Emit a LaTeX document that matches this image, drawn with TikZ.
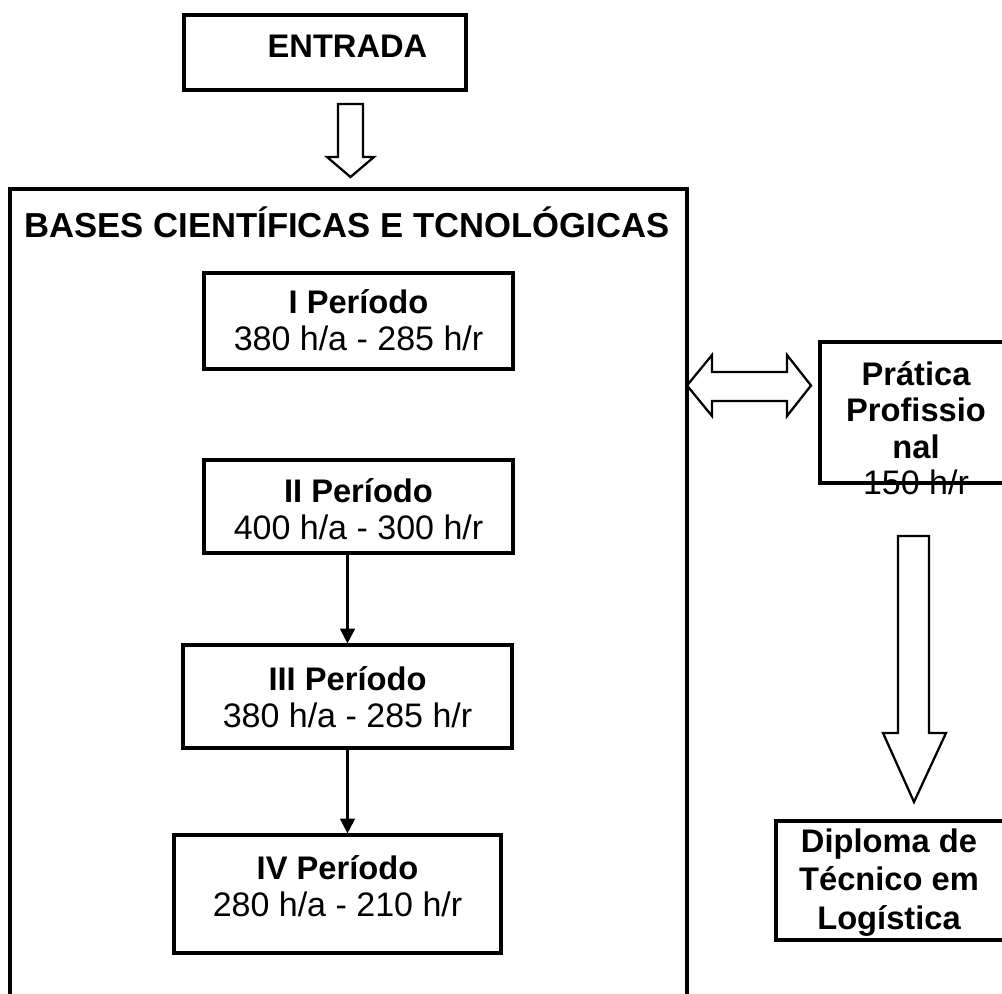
\documentclass[tikz,border=0pt]{standalone}
\usepackage{fontspec}
\setmainfont{Liberation Sans}
\usetikzlibrary{arrows.meta}
\newcommand{\regline}[1]{{\fontsize{25.5}{27.5}\selectfont #1}}
\begin{document}
\begin{tikzpicture}[x=0.75pt,y=-0.75pt,
  box/.style={draw, line width=2.4pt, rectangle, inner sep=0pt},
  txt/.style={font=\fontsize{24.5}{27.5}\selectfont, align=center, inner sep=0pt},
  conn/.style={line width=1.7pt, -{Triangle[width=11pt,length=11pt]}},
  blockarrow/.style={draw, line width=1.7pt, fill=white, line join=miter}]
\useasboundingbox (0,0) rectangle (1002,994);
% ENTRADA
\node[box, minimum width=211.5pt, minimum height=56.25pt] (entrada) at (325,52.5) {};
\node[txt] (entradaT) at (347.5,46) {\bfseries ENTRADA};
% block arrow down
\draw[blockarrow] (338,104) -- (363,104) -- (363,157) -- (374,157) -- (350.5,177) -- (327,157) -- (338,157) -- cycle;
% big container
\draw[line width=2.4pt] (10,1000) -- (10,189) -- (687,189) -- (687,1000);
\node[txt, font=\fontsize{26}{28}\selectfont] (bases) at (347,222) {\bfseries BASES CIENTÍFICAS E TCNOLÓGICAS};
% periods
\node[box, minimum width=231.75pt, minimum height=72pt] (p1) at (358.5,321) {};
\node[txt] (p1T) at (358.5,320) {\bfseries I Período\\\regline{380 h/a - 285 h/r}};
\node[box, minimum width=231.75pt, minimum height=69.75pt] (p2) at (358.5,506.5) {};
\node[txt] (p2T) at (358.5,509) {\bfseries II Período\\\regline{400 h/a - 300 h/r}};
\node[box, minimum width=246.75pt, minimum height=77.25pt] (p3) at (347.5,696.5) {};
\node[txt] (p3T) at (347.5,697) {\bfseries III Período\\\regline{380 h/a - 285 h/r}};
\node[box, minimum width=245.25pt, minimum height=88.5pt] (p4) at (337.5,894) {};
\node[txt] (p4T) at (337.5,886) {\bfseries IV Período\\\regline{280 h/a - 210 h/r}};
\draw[conn] (p3.north |- p2.south) -- (p3.north);
\draw[conn] (p3.south) -- (p3.south |- p4.north);
% double arrow
\draw[blockarrow] (687,385.5) -- (712,355) -- (712,372) -- (787,372) -- (787,355) -- (811,385.5) -- (787,416) -- (787,401) -- (712,401) -- (712,416) -- cycle;
% Pratica
\node[box, minimum width=144pt, minimum height=105.75pt] (prat) at (916,412.5) {};
\node[txt, font=\fontsize{24.5}{27.3}\selectfont] (pratT) at (916,428) {\bfseries Prática\\\bfseries Profissio\\\bfseries nal\\\regline{150 h/r}};
% down arrow right
\draw[blockarrow] (898,536) -- (929,536) -- (929,733) -- (946,733) -- (914,802) -- (883,733) -- (898,733) -- cycle;
% Diploma
\node[box, minimum width=172.5pt, minimum height=89.25pt] (dipl) at (891,880.5) {};
\node[txt, font=\fontsize{24.5}{29}\selectfont] (diplT) at (889,882.5) {\bfseries Diploma de\\\bfseries Técnico em\\\bfseries Logística};
\end{tikzpicture}
\end{document}
